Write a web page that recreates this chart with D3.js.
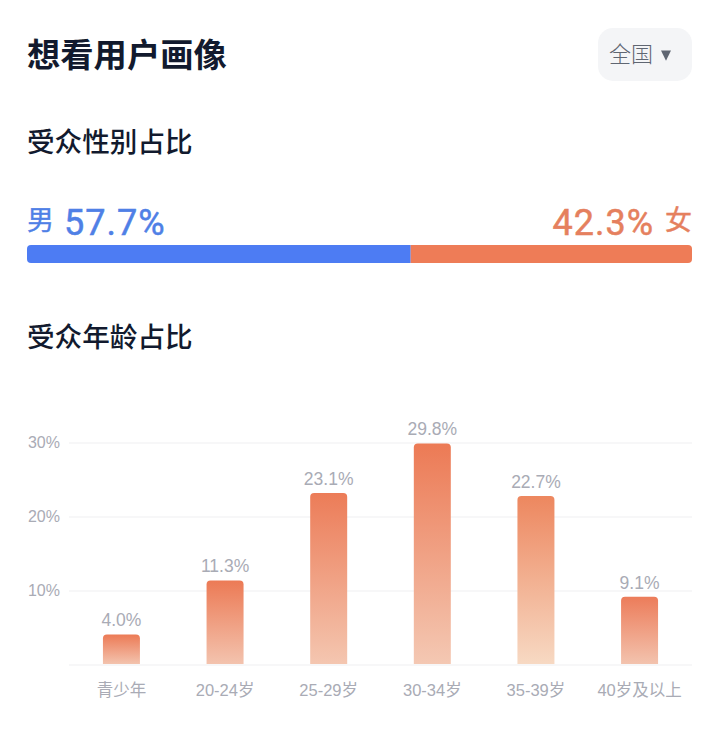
<!DOCTYPE html>
<html>

<head>
    <meta charset="utf-8">
    <title>想看用户画像</title>
    <script src="https://cdnjs.cloudflare.com/ajax/libs/d3/7.8.5/d3.min.js"></script>
    <style>
        html, body { margin: 0; padding: 0; background: #fff; }
        svg { display: block; }
        text { font-family: "Noto Sans CJK SC", "Noto Sans", sans-serif; }
        .num { font-family: Roboto, "Noto Sans CJK SC", sans-serif; }
        .axis { font-family: "Liberation Sans", "Noto Sans CJK SC", sans-serif; }
    </style>
</head>

<body>
    <div id="chart"></div>

    <script>
        var genderLabels = ["男", "女"];
        var genderValues = [57.7, 42.3];
        var ageCategories = ["青少年", "20-24岁", "25-29岁", "30-34岁", "35-39岁", "40岁及以上"];
        var ageValues = [4.0, 11.3, 23.1, 29.8, 22.7, 9.1];
        var ageTicks = [10, 20, 30];

        var width = 720;
        var height = 754;

        var svg = d3.select("#chart").append("svg")
            .attr("width", width)
            .attr("height", height);

        // headings
        svg.append("text").attr("x", 27).attr("y", 67)
            .style("font-size", "33.3px").style("font-weight", 700).attr("fill", "#121a2e")
            .text("想看用户画像");
        svg.append("text").attr("x", 27).attr("y", 152)
            .style("font-size", "27.6px").style("font-weight", 500).attr("fill", "#121a2e")
            .text("受众性别占比");
        svg.append("text").attr("x", 27).attr("y", 347)
            .style("font-size", "27.6px").style("font-weight", 500).attr("fill", "#121a2e")
            .text("受众年龄占比");

        // region dropdown
        svg.append("rect").attr("x", 598).attr("y", 28).attr("width", 94).attr("height", 53)
            .attr("rx", 15).attr("fill", "#f4f5f7");
        svg.append("text").attr("x", 609).attr("y", 62)
            .style("font-size", "22px").style("font-weight", 300).attr("fill", "#5f6672")
            .text("全国");
        svg.append("path").attr("d", d3.symbol(d3.symbolTriangle, 60)())
            .attr("transform", "translate(666,54) rotate(180) scale(0.85,1)")
            .attr("fill", "#5f6672");

        // gender bar
        var genderColors = ["#4d7cf3", "#ee7c57"];
        var genderTextColors = ["#4f80e6", "#e5805e"];
        var xGender = d3.scaleLinear().domain([0, 100]).range([27, 692]);

        svg.append("defs").append("clipPath").attr("id", "genderClip")
            .append("rect")
            .attr("x", xGender(0)).attr("y", 245)
            .attr("width", xGender(100) - xGender(0)).attr("height", 18)
            .attr("rx", 4);

        var cumulative = 0;
        var genderBar = svg.append("g").attr("clip-path", "url(#genderClip)");
        genderValues.forEach(function (v, i) {
            genderBar.append("rect")
                .attr("x", xGender(cumulative))
                .attr("y", 245)
                .attr("width", xGender(cumulative + v) - xGender(cumulative))
                .attr("height", 18)
                .attr("fill", genderColors[i]);
            cumulative += v;
        });

        svg.append("text").attr("x", 27).attr("y", 230)
            .style("font-size", "27px").attr("fill", genderTextColors[0])
            .attr("stroke", genderTextColors[0]).attr("stroke-width", 0.4)
            .text(genderLabels[0]);
        svg.append("text").attr("class", "num").attr("x", 64).attr("y", 235)
            .style("font-size", "36px").style("letter-spacing", "1px").attr("fill", genderTextColors[0])
            .attr("stroke", genderTextColors[0]).attr("stroke-width", 0.5)
            .text(genderValues[0].toFixed(1) + "%");
        svg.append("text").attr("x", 692).attr("y", 230).attr("text-anchor", "end")
            .style("font-size", "27px").attr("fill", genderTextColors[1])
            .attr("stroke", genderTextColors[1]).attr("stroke-width", 0.4)
            .text(genderLabels[1]);
        svg.append("text").attr("class", "num").attr("x", 654).attr("y", 235).attr("text-anchor", "end")
            .style("font-size", "36px").style("letter-spacing", "1px").attr("fill", genderTextColors[1])
            .attr("stroke", genderTextColors[1]).attr("stroke-width", 0.5)
            .text(genderValues[1].toFixed(1) + "%");

        // age bars
        var xScale = d3.scaleBand().domain(ageCategories).range([69, 692])
            .paddingInner(0.643).paddingOuter(0.3275);
        var yScale = d3.scaleLinear().domain([0, 30]).range([665, 443]);

        var defs = svg.select("defs");
        var barTop = ["#ec7a55", "#ec7a55", "#ec7c58", "#ec7a55", "#ed875f", "#ec7c5a"];
        var barBottom = ["#f3c3ae", "#f3c3ae", "#f4c6b0", "#f4c8b3", "#f7d9c3", "#f3c3ae"];

        ageValues.forEach(function (v, i) {
            var grad = defs.append("linearGradient").attr("id", "barGrad" + i)
                .attr("x1", 0).attr("y1", 0).attr("x2", 0).attr("y2", 1);
            grad.append("stop").attr("offset", "0%").attr("stop-color", barTop[i]);
            grad.append("stop").attr("offset", "100%").attr("stop-color", barBottom[i]);
        });

        var gridColor = "#f4f4f6";
        var axisColor = "#a9abb5";

        svg.append("g").selectAll("line")
            .data([0].concat(ageTicks))
            .join("line")
            .attr("x1", 69).attr("x2", 692)
            .attr("y1", function (d) { return yScale(d); })
            .attr("y2", function (d) { return yScale(d); })
            .attr("stroke", gridColor)
            .attr("stroke-width", 1.5);

        svg.append("g").selectAll("text")
            .data(ageTicks)
            .join("text")
            .attr("class", "axis")
            .attr("x", 60)
            .attr("y", function (d) { return yScale(d) + 5; })
            .attr("text-anchor", "end")
            .style("font-size", "16px")
            .attr("fill", axisColor)
            .text(function (d) { return d + "%"; });

        var r = 4;
        svg.append("g").selectAll("path")
            .data(ageValues)
            .join("path")
            .attr("d", function (d, i) {
                var x = xScale(ageCategories[i]);
                var w = xScale.bandwidth();
                var top = yScale(d) - 1;
                var bottom = yScale(0) - 1;
                return "M" + x + "," + bottom + "V" + (top + r) + "Q" + x + "," + top + " " + (x + r) + "," + top +
                    "H" + (x + w - r) + "Q" + (x + w) + "," + top + " " + (x + w) + "," + (top + r) + "V" + bottom + "Z";
            })
            .attr("fill", function (d, i) { return "url(#barGrad" + i + ")"; });

        svg.append("g").selectAll("text")
            .data(ageValues)
            .join("text")
            .attr("class", "axis")
            .attr("x", function (d, i) { return xScale(ageCategories[i]) + xScale.bandwidth() / 2; })
            .attr("y", function (d) { return yScale(d) - 9; })
            .attr("text-anchor", "middle")
            .style("font-size", "17.5px")
            .attr("fill", axisColor)
            .text(function (d) { return d.toFixed(1) + "%"; });

        svg.append("g").selectAll("text")
            .data(ageCategories)
            .join("text")
            .attr("class", "axis")
            .attr("x", function (d) { return xScale(d) + xScale.bandwidth() / 2; })
            .attr("y", 696)
            .attr("text-anchor", "middle")
            .style("font-size", "16.5px")
            .attr("fill", axisColor)
            .text(function (d) { return d; });
    </script>

</body>

</html>
